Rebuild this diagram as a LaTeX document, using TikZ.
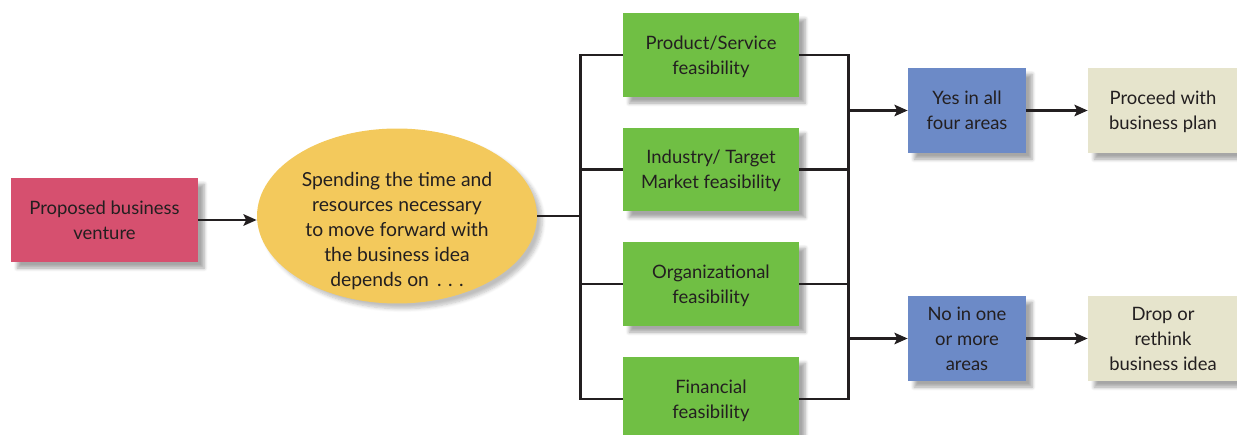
\documentclass[tikz,border=0pt]{standalone}
\usepackage{fontspec}
\setmainfont{Lato}
\usepackage{tikz}
\usetikzlibrary{positioning,arrows.meta,shapes.geometric,shadows,shadows.blur}
\usepackage{xcolor}
\definecolor{ventpink}{HTML}{D6506F}
\definecolor{ideayellow}{HTML}{F3C95C}
\definecolor{feasgreen}{HTML}{70BF44}
\definecolor{answblue}{HTML}{6C8AC7}
\definecolor{outbeige}{HTML}{E6E4CC}
\definecolor{inkgray}{HTML}{231F20}

\tikzset{
  box/.style={rectangle, text=inkgray, align=center, inner sep=2pt,
              minimum height=1.68cm, text depth=0pt,
              font=\fontsize{10.5}{14.2}\selectfont,
              blur shadow={shadow xshift=3.5pt, shadow yshift=-3.5pt,
                           shadow opacity=35, shadow blur steps=6}},
  venture/.style={box, fill=ventpink, minimum width=3.74cm},
  feas/.style={box, fill=feasgreen, minimum width=3.52cm},
  answer/.style={box, fill=answblue, minimum width=2.36cm, minimum height=1.7cm},
  outcome/.style={box, fill=outbeige, minimum width=3.0cm, minimum height=1.7cm},
  link/.style={draw=inkgray, line width=1.7pt},
}

\begin{document}
\begin{tikzpicture}[x=0.02cm,y=-0.02cm,
                    >={Stealth[length=7.5pt,width=6.5pt,inset=1.5pt]}]
  \useasboundingbox (0,0) rectangle (1237,435);
  \begin{scope}
  \clip (0,0) rectangle (1237,435);

  \node[venture] (venture) at (104.5,220) {Proposed business\\venture};
  \node[ellipse, fill=ideayellow, minimum width=5.6cm, minimum height=3.5cm,
        blur shadow={shadow xshift=3pt, shadow yshift=-3pt,
                     shadow opacity=25, shadow blur steps=6}]
        (idea) at (397,216) {};
  \node[text=inkgray, align=center, font=\fontsize{11}{14.2}\selectfont]
        (ideatext) at (397,231) {Spending the time and\\resources necessary\\%
        to move forward with\\the business idea\\depends on \,.\,\,.\,\,.};

  \node[feas] (prod) at (711,55) {Product/Service\\feasibility};
  \node[feas] (ind) at (711,169.5) {Industry/ Target\\Market feasibility};
  \node[feas] (org) at (711,284) {Organizational\\feasibility};
  \node[feas] (fin) at (711,399) {Financial\\feasibility};

  \node[answer] (yes) at (967,110.5) {Yes in all\\four areas};
  \node[answer] (no) at (967,338.5) {No in one\\or more\\areas};
  \node[outcome] (proceed) at (1163,110.5) {Proceed with\\business plan};
  \node[outcome] (drop) at (1163,338.5) {Drop or\\rethink\\business idea};

  \coordinate (lbus) at (580,216);
  \coordinate (rbus) at (848,216);

  % left side
  \draw[link,->] (venture.east) -- (venture.east -| idea.west);
  \draw[link] (idea.east) -- (lbus);
  \draw[link] (prod.west) -| (lbus) |- (fin.west);
  \draw[link] (lbus |- ind.west) -- (ind.west);
  \draw[link] (lbus |- org.west) -- (org.west);

  % right side
  \draw[link] (prod.east) -| (rbus) |- (fin.east);
  \draw[link] (ind.east) -- (rbus |- ind.east);
  \draw[link] (org.east) -- (rbus |- org.east);
  \draw[link,->] (rbus |- yes.west) -- (yes.west);
  \draw[link,->] (rbus |- no.west) -- (no.west);
  \draw[link,->] (yes) -- (proceed);
  \draw[link,->] (no) -- (drop);
  \end{scope}
\end{tikzpicture}
\end{document}
